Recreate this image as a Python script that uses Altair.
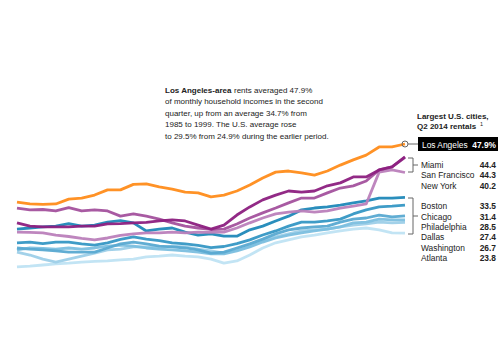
import altair as alt
import pandas as pd

years = list(range(1984, 2015))

cities = ["Atlanta", "Washington", "Dallas", "Philadelphia", "Chicago", "Boston",
          "New York", "San Francisco", "Miami", "Los Angeles"]

colors = {
    "Los Angeles": "#ff8c1a",
    "Miami": "#8c1f80",
    "San Francisco": "#a3519d",
    "New York": "#bb80bb",
    "Boston": "#1f88b8",
    "Chicago": "#3597c4",
    "Philadelphia": "#58a9d1",
    "Dallas": "#7cbfdf",
    "Washington": "#9dcfe8",
    "Atlanta": "#bfe3f3",
}

los_angeles = [32.2, 31.7, 31.6, 31.7, 33.0, 33.3, 34.1, 35.5, 35.5, 37.0, 37.1, 36.3, 35.7, 34.9, 34.7,
               33.6, 34.1, 35.2, 36.8, 38.7, 40.3, 40.6, 40.1, 39.5, 40.6, 42.2, 43.6, 44.9, 47.1, 47.1, 47.9]
miami = [26.6, 25.7, 25.5, 25.5, 25.5, 25.7, 25.7, 26.3, 26.4, 26.6, 26.7, 27.1, 27.4, 27.1, 26.0,
         24.9, 26.0, 28.7, 30.9, 32.8, 34.1, 35.2, 34.9, 35.2, 36.6, 37.4, 39.0, 39.0, 40.9, 41.7, 44.4]
san_francisco = [30.6, 30.1, 30.2, 29.8, 30.7, 29.8, 30.1, 29.8, 28.4, 29.0, 28.4, 27.6, 26.6, 25.7, 25.2,
                 24.8, 24.9, 26.3, 27.9, 29.3, 30.6, 32.0, 33.3, 33.3, 34.7, 36.0, 36.6, 37.9, 40.9, 41.7, 44.3]
new_york = [24.1, 24.0, 23.9, 23.3, 22.9, 22.4, 22.0, 22.5, 23.2, 23.6, 23.9, 23.9, 24.1, 23.9, 24.1,
            24.0, 24.1, 25.2, 26.6, 27.9, 29.0, 29.5, 29.8, 29.5, 29.8, 30.6, 31.1, 31.7, 40.3, 40.9, 40.2]
boston = [24.9, 25.2, 25.5, 25.7, 26.4, 25.7, 26.0, 26.8, 27.2, 26.6, 24.4, 24.9, 25.2, 24.1, 23.3,
          23.6, 23.0, 23.0, 24.7, 25.7, 27.1, 28.4, 30.1, 30.6, 30.9, 31.4, 32.0, 32.5, 33.3, 33.3, 33.5]
chicago = [21.2, 21.4, 21.0, 21.4, 21.4, 20.9, 20.6, 21.2, 22.1, 22.8, 22.2, 21.8, 21.2, 20.9, 20.5,
           19.9, 20.2, 21.0, 22.0, 23.3, 24.4, 25.7, 26.8, 26.8, 27.1, 27.6, 29.0, 30.1, 30.9, 31.1, 31.4]
philadelphia = [19.8, 19.5, 19.3, 19.0, 18.7, 18.7, 18.7, 19.8, 20.9, 21.4, 20.9, 20.3, 20.1, 19.8, 19.3,
                18.4, 18.7, 19.8, 20.9, 22.2, 23.6, 24.7, 25.2, 25.5, 25.7, 26.8, 27.6, 27.9, 28.7, 28.2, 28.5]
dallas = [19.3, 19.8, 19.7, 19.5, 19.8, 19.5, 19.8, 20.3, 20.6, 20.3, 19.8, 19.5, 19.3, 19.0, 18.7,
          18.2, 18.2, 19.0, 20.1, 21.4, 22.5, 23.3, 23.9, 24.4, 24.9, 25.5, 26.6, 26.8, 27.6, 27.4, 27.4]
washington = [18.7, 17.9, 16.8, 16.0, 16.8, 17.6, 18.4, 19.3, 19.5, 20.1, 20.1, 19.8, 20.3, 20.1, 19.5,
              19.0, 18.4, 19.3, 20.3, 21.7, 22.8, 23.6, 24.4, 24.7, 24.9, 25.5, 26.0, 26.3, 26.8, 26.6, 26.7]
atlanta = [14.7, 14.9, 15.2, 15.5, 15.7, 16.0, 16.2, 16.3, 16.6, 16.8, 17.4, 17.6, 17.9, 17.6, 17.4,
           16.8, 15.7, 16.3, 17.9, 19.8, 21.2, 22.0, 22.8, 23.3, 23.9, 24.4, 24.9, 25.2, 24.7, 23.9, 23.8]

series = {
    "Los Angeles": los_angeles, "Miami": miami, "San Francisco": san_francisco,
    "New York": new_york, "Boston": boston, "Chicago": chicago,
    "Philadelphia": philadelphia, "Dallas": dallas, "Washington": washington,
    "Atlanta": atlanta,
}

legend_names = ["Miami", "San Francisco", "New York", "Boston", "Chicago",
                "Philadelphia", "Dallas", "Washington", "Atlanta"]
legend_values = ["44.4", "44.3", "40.2", "33.5", "31.4", "28.5", "27.4", "26.7", "23.8"]
legend_y = [165, 175.3, 185.6, 206.3, 216.6, 226.9, 237.2, 247.5, 257.8]

annotation_bold = "Los Angeles-area"
annotation_rest = "rents averaged 47.9%"
annotation_lines = [
    "of monthly household incomes in the second",
    "quarter, up from an average 34.7% from",
    "1985 to 1999. The U.S. average rose",
    "to 29.5% from 24.9% during the earlier period.",
]

FONT = "Liberation Sans"
TXT = "#222222"

xscale = alt.Scale(domain=[1982.686, 2021.346], nice=False, zero=False)
yscale = alt.Scale(domain=[-5.61, 86.82], nice=False, zero=False)

layers = []
for c in cities:
    df = pd.DataFrame({"year": years, "value": series[c], "city": c})
    layers.append(
        alt.Chart(df).mark_line(color=colors[c], strokeWidth=2.8, strokeJoin="round", opacity=0.95)
        .encode(x=alt.X("year:Q", scale=xscale, axis=None),
                y=alt.Y("value:Q", scale=yscale, axis=None))
    )

# end marker for Los Angeles
end_df = pd.DataFrame({"year": [years[-1]], "value": [los_angeles[-1]]})
layers.append(
    alt.Chart(end_df).mark_point(shape="circle", size=36, filled=False, color="#666666",
                                 strokeWidth=1, fill="#ffffff", fillOpacity=0)
    .encode(x=alt.X("year:Q", scale=xscale, axis=None),
            y=alt.Y("value:Q", scale=yscale, axis=None))
)

def rule(x1, x2, y1, y2, color="#666666", w=1):
    return alt.Chart(pd.DataFrame({"a": [0]})).mark_rule(color=color, strokeWidth=w).encode(
        x=alt.value(x1), x2=alt.value(x2), y=alt.value(y1), y2=alt.value(y2))

def text(t, x, y, bold=False, size=8, color=TXT, align="left"):
    return alt.Chart(pd.DataFrame({"a": [0]})).mark_text(
        text=t, font=FONT, fontSize=size, fontWeight="bold" if bold else "normal",
        color=color, align=align, baseline="middle").encode(x=alt.value(x), y=alt.value(y))

# connector and black box
layers.append(rule(408, 418, 144, 144))
layers.append(alt.Chart(pd.DataFrame({"a": [0]})).mark_rect(color="#000000").encode(
    x=alt.value(418), x2=alt.value(498), y=alt.value(137), y2=alt.value(151)))
layers.append(text("Los Angeles", 422, 144.5, color="#ffffff", size=8.4))
layers.append(text("47.9%", 496, 144.5, bold=True, color="#ffffff", align="right", size=8.4))

# brackets
for top, bot in [(158, 172), (198, 234)]:
    layers.append(rule(408, 413, top, top))
    layers.append(rule(408, 413, bot, bot))
    layers.append(rule(413, 413, top, bot))
    layers.append(rule(413, 418, (top + bot) / 2, (top + bot) / 2))

# legend title
layers.append(text("Largest U.S. cities,", 417, 116.5, bold=True))
layers.append(text("Q2 2014 rentals", 417, 127, bold=True))
layers.append(text("1", 480, 123.5, bold=False, size=5.5))

for n, v, y in zip(legend_names, legend_values, legend_y):
    layers.append(text(n, 421, y, size=8.4))
    layers.append(text(v, 496, y, bold=True, align="right", size=8.4))

# annotation
layers.append(text(annotation_bold, 165, 90.5, bold=True))
layers.append(text(annotation_rest, 234, 90.5))
for i, line in enumerate(annotation_lines):
    layers.append(text(line, 165, 102 + 11.5 * i))

chart = alt.layer(*layers).properties(
    width=500, height=342, autosize="none", padding=0
).configure_view(stroke=None)

chart.save("out.html", embed_options={"renderer": "svg", "actions": False})
